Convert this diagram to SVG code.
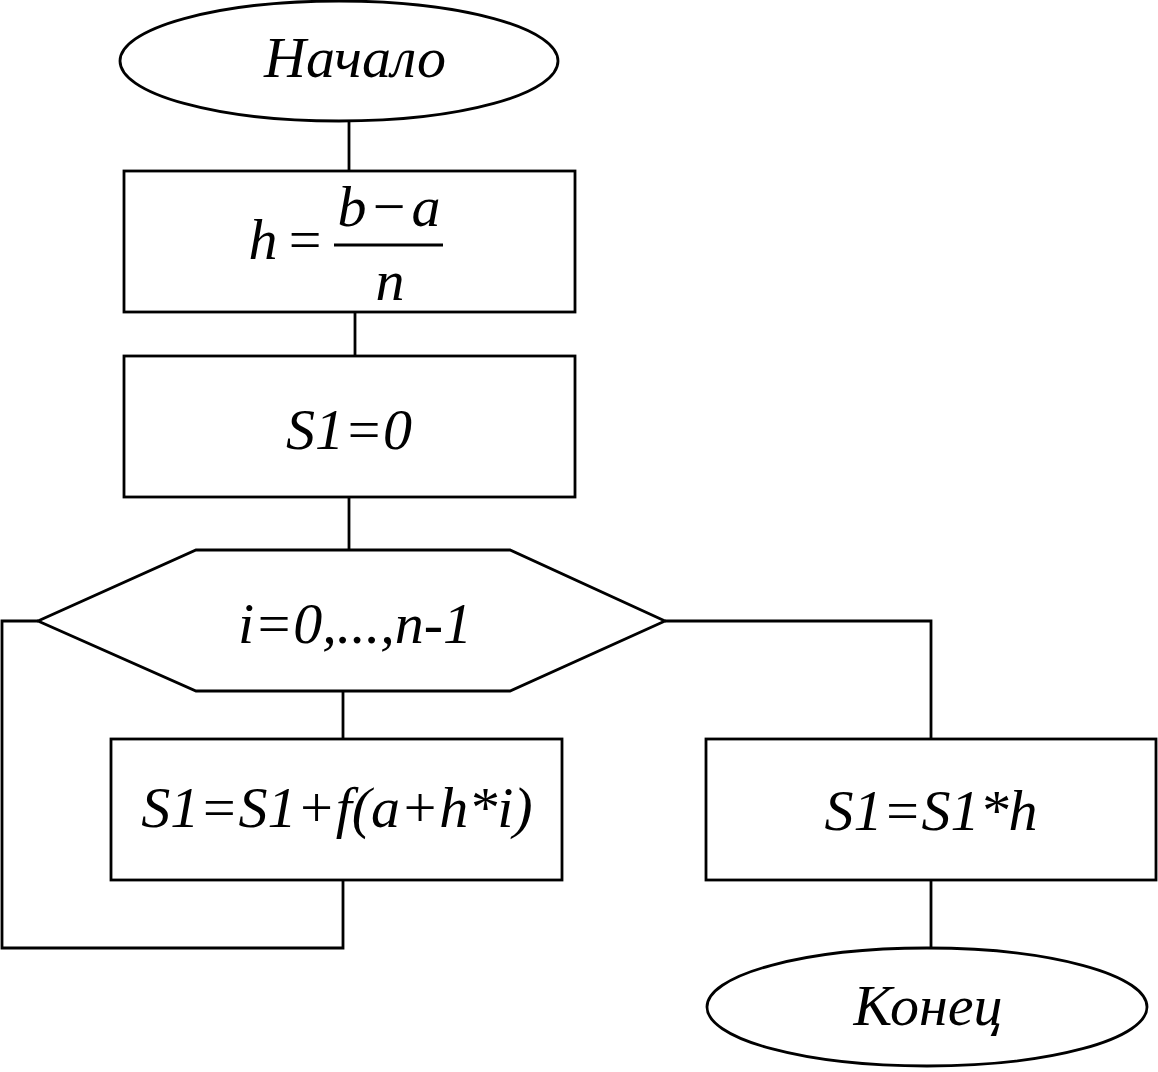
<svg xmlns="http://www.w3.org/2000/svg" width="1158" height="1072" viewBox="0 0 1158 1072">
<style>
.s{fill:none;stroke:#000;stroke-width:2.8}
.b{fill:#fff;stroke:#000;stroke-width:2.8}
text{font-family:"Liberation Serif","Times New Roman",serif;font-style:italic;font-size:58px;fill:#000;text-anchor:middle}
.n{font-style:normal}
</style>
<rect width="1158" height="1072" fill="#fff"/>
<g id="connectors">
<path class="s" d="M349,122V171"/>
<path class="s" d="M355,312V356"/>
<path class="s" d="M349,497V550"/>
<path class="s" d="M343,691V739"/>
<path class="s" d="M38,621H2V948H343V880"/>
<path class="s" d="M665,621H931V739"/>
<path class="s" d="M931,880V948"/>
</g>
<g id="start">
<ellipse class="b" cx="339" cy="61" rx="219" ry="60"/>
<text x="355" y="77">Начало</text>
</g>
<g id="calc-h">
<rect class="b" x="124" y="171" width="451" height="141"/>
<text x="263" y="259">h</text>
<text x="305" y="259" class="n">=</text>
<text x="352" y="226">b</text>
<text x="389" y="226" class="n">−</text>
<text x="426" y="226">a</text>
<line x1="334" y1="245" x2="443" y2="245" stroke="#000" stroke-width="3"/>
<text x="390" y="300">n</text>
</g>
<g id="init">
<rect class="b" x="124" y="356" width="451" height="141"/>
<text x="349" y="449">S1=0</text>
</g>
<g id="loop">
<polygon class="b" points="196,550 510,550 665,621 510,691 196,691 38,621"/>
<text x="355" y="643">i=0,...,n-1</text>
</g>
<g id="accumulate">
<rect class="b" x="111" y="739" width="451" height="141"/>
<text x="337" y="827">S1=S1+f(a+h*i)</text>
</g>
<g id="scale">
<rect class="b" x="706" y="739" width="450" height="141"/>
<text x="931" y="830">S1=S1*h</text>
</g>
<g id="end">
<ellipse class="b" cx="927" cy="1007" rx="220" ry="59"/>
<text x="928" y="1025">Конец</text>
</g>
</svg>
